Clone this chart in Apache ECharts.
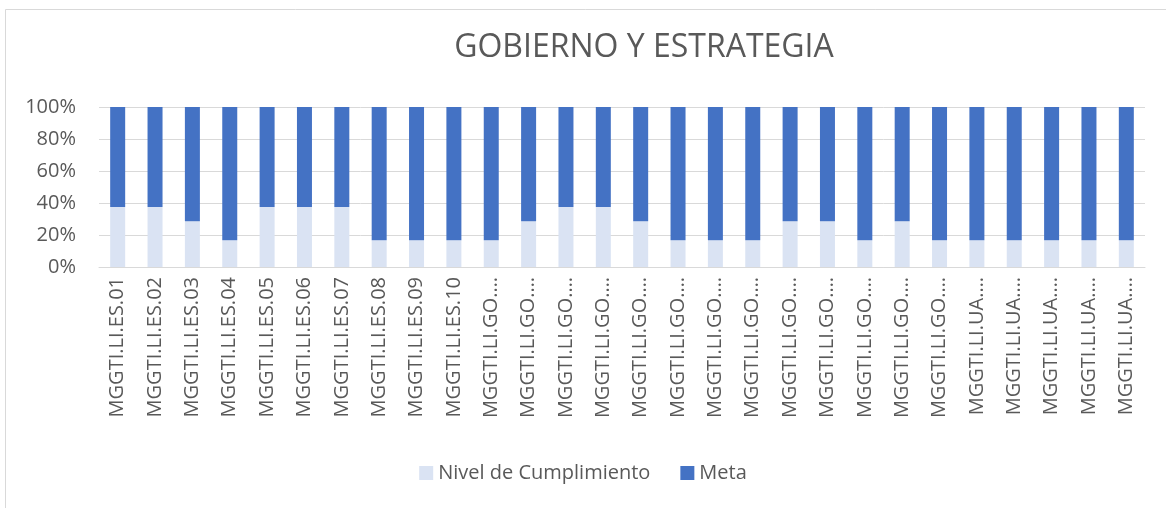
<!DOCTYPE html>
<html>
<head>
<meta charset="utf-8">
<title>Gobierno y Estrategia</title>
<script src="https://cdn.jsdelivr.net/npm/echarts@6/dist/echarts.min.js"></script>
<style>
  html, body { margin: 0; padding: 0; background: #fff; }
  #chart { width: 1166px; height: 508px; }
</style>
</head>
<body>
<div id="chart"></div>
<script>
// categorías tal como se ven en el eje (Excel las recorta con "…")
const categories = [
  'MGGTI.LI.ES.01', 'MGGTI.LI.ES.02', 'MGGTI.LI.ES.03', 'MGGTI.LI.ES.04', 'MGGTI.LI.ES.05',
  'MGGTI.LI.ES.06', 'MGGTI.LI.ES.07', 'MGGTI.LI.ES.08', 'MGGTI.LI.ES.09', 'MGGTI.LI.ES.10',
  'MGGTI.LI.GO.…', 'MGGTI.LI.GO.…', 'MGGTI.LI.GO.…', 'MGGTI.LI.GO.…', 'MGGTI.LI.GO.…',
  'MGGTI.LI.GO.…', 'MGGTI.LI.GO.…', 'MGGTI.LI.GO.…', 'MGGTI.LI.GO.…', 'MGGTI.LI.GO.…',
  'MGGTI.LI.GO.…', 'MGGTI.LI.GO.…', 'MGGTI.LI.GO.…',
  'MGGTI.LI.UA.…', 'MGGTI.LI.UA.…', 'MGGTI.LI.UA.…', 'MGGTI.LI.UA.…', 'MGGTI.LI.UA.…'
]

// nivel alcanzado y meta (escala 0-5)
const nivelCumplimiento = [3, 3, 2, 1, 3, 3, 3, 1, 1, 1, 1, 2, 3, 3, 2, 1, 1, 1, 2, 2, 1, 2, 1, 1, 1, 1, 1, 1]
const meta = [5, 5, 5, 5, 5, 5, 5, 5, 5, 5, 5, 5, 5, 5, 5, 5, 5, 5, 5, 5, 5, 5, 5, 5, 5, 5, 5, 5]

const yTicks = [0, 20, 40, 60, 80, 100]

// gráfico 100% apilado: cada barra se normaliza sobre su total
const pctNivel = nivelCumplimiento.map((v, i) => v / (v + meta[i]) * 100)
const pctMeta = meta.map((v, i) => v / (v + nivelCumplimiento[i]) * 100)

const textColor = '#595959'
const font = '"Open Sans", "Noto Sans", sans-serif'

const myChart = echarts.init(document.getElementById('chart'))
const option = {
  backgroundColor: '#fff',
  animation: false,
  title: {
    text: 'GOBIERNO Y ESTRATEGIA',
    left: 639,
    top: 27,
    textAlign: 'center',
    textStyle: { color: textColor, fontFamily: font, fontSize: 32, fontWeight: 'normal' }
  },
  legend: {
    data: ['Nivel de Cumplimiento', 'Meta'],
    left: 'center',
    top: 458,
    icon: 'rect',
    itemWidth: 14,
    itemHeight: 14,
    itemGap: 30,
    textStyle: { color: textColor, fontFamily: font, fontSize: 20 }
  },
  grid: {
    left: 99,
    right: 21,
    top: 107,
    bottom: 241,
    containLabel: false
  },
  xAxis: {
    type: 'category',
    data: categories,
    axisLine: { lineStyle: { color: '#D9D9D9', width: 1 } },
    axisTick: { show: false },
    axisLabel: {
      interval: 0,
      rotate: 90,
      margin: 10,
      color: textColor,
      fontFamily: font,
      fontSize: 20
    }
  },
  yAxis: {
    type: 'value',
    min: yTicks[0],
    max: yTicks[yTicks.length - 1],
    interval: 20,
    axisLine: { show: false },
    axisTick: { show: false },
    splitLine: { lineStyle: { color: '#D9D9D9', width: 1 } },
    axisLabel: {
      formatter: '{value}%',
      margin: 23,
      color: textColor,
      fontFamily: font,
      fontSize: 20
    }
  },
  series: [
    {
      name: 'Nivel de Cumplimiento',
      type: 'bar',
      stack: 'total',
      barWidth: 15,
      itemStyle: { color: '#DAE3F3' },
      data: pctNivel
    },
    {
      name: 'Meta',
      type: 'bar',
      stack: 'total',
      barWidth: 15,
      itemStyle: { color: '#4472C4' },
      data: pctMeta
    }
  ],
  graphic: [
    { type: 'line', shape: { x1: 5.5, y1: 9.5, x2: 1166, y2: 9.5 }, style: { stroke: '#D9D9D9', lineWidth: 1 } },
    { type: 'line', shape: { x1: 5.5, y1: 9.5, x2: 5.5, y2: 508 }, style: { stroke: '#D9D9D9', lineWidth: 1 } }
  ]
}
myChart.setOption(option)
window.addEventListener('resize', function () {
  myChart.resize()
})
</script>
</body>
</html>
